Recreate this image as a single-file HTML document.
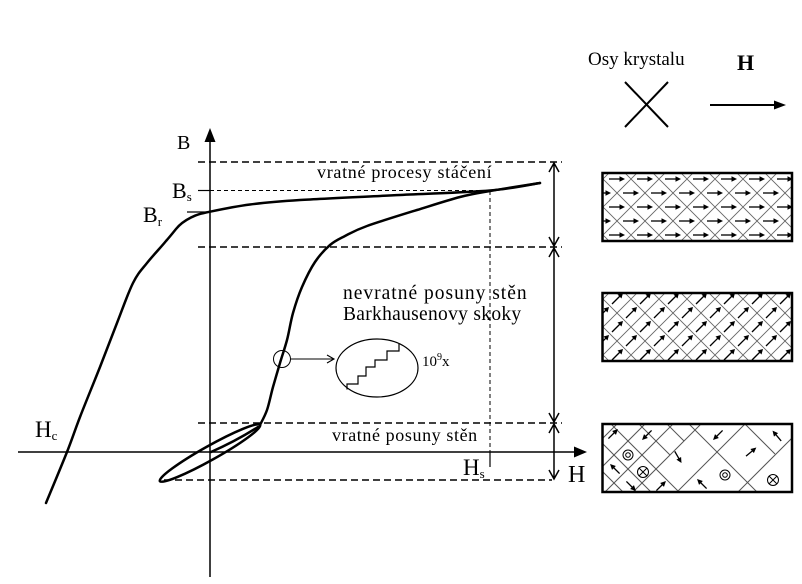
<!DOCTYPE html>
<html><head><meta charset="utf-8"><style>html,body{margin:0;padding:0;background:#fff}svg{display:block}</style></head>
<body>
<svg width="802" height="584" viewBox="0 0 802 584" xmlns="http://www.w3.org/2000/svg" font-family="'Liberation Serif', 'DejaVu Serif', serif">
<defs>
  <g id="ra"><path d="M-8,0H3" stroke="#000" stroke-width="1.3"/><polygon points="8,0 2.5,-2.8 2.5,2.8" fill="#000"/></g>
  <g id="da"><path d="M-5,5L3,-3" stroke="#000" stroke-width="1.3"/><polygon points="6,-6 4.5,-0.5 0.5,-4.5" fill="#000"/></g>
  <g id="a0"><path d="M-6.5,0H3" stroke="#000" stroke-width="1.3"/><polygon points="7,0 1.5,-2.7 1.5,2.7" fill="#000"/></g>
  <pattern id="p1" patternUnits="userSpaceOnUse" x="631" y="165" width="28" height="28">
    <path d="M13,-1L29,15M-1,13L15,29M15,-1L-1,15M29,13L13,29" stroke="#666" stroke-width="0.9" fill="none"/>
    <use href="#ra" x="14" y="14"/><use href="#ra" x="0" y="0"/><use href="#ra" x="28" y="0"/><use href="#ra" x="0" y="28"/><use href="#ra" x="28" y="28"/>
  </pattern>
  <pattern id="p2" patternUnits="userSpaceOnUse" x="631" y="285" width="28" height="28">
    <path d="M13,-1L29,15M-1,13L15,29M15,-1L-1,15M29,13L13,29" stroke="#666" stroke-width="0.9" fill="none"/>
    <use href="#da" x="14" y="14"/><use href="#da" x="0" y="0"/><use href="#da" x="28" y="0"/><use href="#da" x="0" y="28"/><use href="#da" x="28" y="28"/>
  </pattern>
  <clipPath id="c3"><rect x="602.5" y="424" width="189.5" height="68"/></clipPath>
</defs>

<!-- legend -->
<text x="588" y="65" font-size="19">Osy krystalu</text>
<text x="737" y="70" font-size="22" font-weight="bold">H</text>
<path d="M625,82L668,127M668,82L625,127" stroke="#000" stroke-width="2"/>
<path d="M710,105H776" stroke="#000" stroke-width="2"/>
<polygon points="786,105 774,100.5 774,109.5" fill="#000"/>

<!-- axes -->
<path d="M18,452H576" stroke="#000" stroke-width="1.5"/>
<polygon points="587,452 574,446.5 574,457.5" fill="#000"/>
<path d="M210,577V140" stroke="#000" stroke-width="1.5"/>
<polygon points="210,128 204.5,142 215.5,142" fill="#000"/>

<!-- dashed levels -->
<g stroke="#000" stroke-width="1.6" stroke-dasharray="7,4" fill="none">
  <path d="M198,162H562"/>
  <path d="M198,247H562"/>
  <path d="M198,423H562"/>
  <path d="M164,480H552"/>
</g>
<path d="M210,190.5H490" stroke="#000" stroke-width="1" stroke-dasharray="4,3"/>
<path d="M198,190.5H210" stroke="#000" stroke-width="1.2"/>
<path d="M187,212H210" stroke="#000" stroke-width="1.2"/>
<path d="M490,191V452" stroke="#000" stroke-width="1" stroke-dasharray="4,3"/>
<path d="M490,452V467" stroke="#000" stroke-width="1.2"/>

<!-- double arrows -->
<g stroke="#000" stroke-width="1.5" fill="none">
  <path d="M554,163V246M549,172L554,163L559,172M549,237L554,246L559,237"/>
  <path d="M554,248V422M549,257L554,248L559,257M549,413L554,422L559,413"/>
  <path d="M554,424V479M549,433L554,424L559,433M549,470L554,479L559,470"/>
</g>

<!-- hysteresis curves -->
<g stroke="#000" stroke-width="2.5" fill="none" stroke-linejoin="round" stroke-linecap="round">
  <path d="M540,183 C531.7,184.25 513.3,188.5 490,190.5 C466.7,192.5 431.7,193.4 400,195 C368.3,196.6 325,198.4 300,200 C275,201.6 265,202.55 250,204.5 C235,206.45 219.5,209.7 210,211.7 C200.5,213.7 197,214.5 191,217.5 C185,220.5 180,224 176,229 C172,234 170,236.5 166,241 C162,246.05 152.7,255.8 147,263 C141.3,270.2 138,273 133,283 C128,293 122.5,309 117,323 C111.5,337 106.2,351.3 100,367 C93.8,382.7 85.5,402.8 80,417 C74.5,431.2 72.7,437.7 67,452 C61.3,466.3 49.5,494.5 46,503"/>
  <path d="M260,425 C261.2,422.5 264.8,416.3 267,410 C269.2,403.7 270.8,394.8 273,387 C275.2,379.2 277.7,370.8 280,363 C282.3,355.2 284.8,348.3 287,340 C289.2,331.7 290.5,321.8 293,313 C295.5,304.2 298.3,295.5 302,287 C305.7,278.5 310.3,269 315,262 C319.7,255 325,249.3 330,245 C335,240.7 338.8,239.2 345,236 C351.2,232.8 355,230.3 367,226 C379,221.7 401.5,214.8 417,210 C432.5,205.2 447.8,200.2 460,197 C472.2,193.8 476.7,193.3 490,191 C503.3,188.7 531.7,184.3 540,183"/>
  <ellipse cx="210" cy="453" rx="57.5" ry="7" transform="rotate(-29.25 210 453)"/>
  <path d="M211,452 Q236,441 258,427"/>
</g>

<!-- inset -->
<circle cx="282" cy="359" r="8.5" fill="none" stroke="#000" stroke-width="1"/>
<path d="M291,359H334M327,355L334,359L327,363" stroke="#000" stroke-width="1.1" fill="none"/>
<ellipse cx="377" cy="368" rx="41" ry="29" fill="none" stroke="#000" stroke-width="1.2"/>
<polyline points="347,389.5 347,384 358,384 358,376 366,376 366,367 375,367 375,360 387,360 387,351 399,351 399,344" fill="none" stroke="#000" stroke-width="1.2"/>
<text x="422" y="366" font-size="15">10<tspan font-size="10" dy="-6">9</tspan><tspan dy="6">x</tspan></text>

<!-- labels -->
<text x="317" y="178" font-size="18" letter-spacing="0.7">vratné procesy stáčení</text>
<text x="343" y="299" font-size="19.5" letter-spacing="1">nevratné posuny stěn</text>
<text x="343" y="320" font-size="19.5" letter-spacing="0.3">Barkhausenovy skoky</text>
<text x="332" y="441" font-size="18" letter-spacing="0.6">vratné posuny stěn</text>
<text x="177" y="149" font-size="20">B</text>
<text x="172" y="198" font-size="22">B<tspan font-size="13" dy="3">s</tspan></text>
<text x="143" y="222" font-size="22">B<tspan font-size="13" dy="4">r</tspan></text>
<text x="35" y="437" font-size="23">H<tspan font-size="13" dy="3">c</tspan></text>
<text x="463" y="475" font-size="23">H<tspan font-size="13" dy="3">s</tspan></text>
<text x="568" y="482" font-size="24">H</text>

<!-- crystal boxes -->
<rect x="602.5" y="173" width="189.5" height="68" fill="url(#p1)"/>
<rect x="602.5" y="173" width="189.5" height="68" fill="none" stroke="#000" stroke-width="2.5"/>
<rect x="602.5" y="293" width="189.5" height="68" fill="url(#p2)"/>
<rect x="602.5" y="293" width="189.5" height="68" fill="none" stroke="#000" stroke-width="2.5"/>

<g clip-path="url(#c3)">
  <g stroke="#555" stroke-width="1" fill="none">
    <path d="M611,424L679,492M602,443L651,492M602,471L623,492M639,424L670,455M667,424L684,441M689,424L757,492M745,424L775,454"/>
    <path d="M602,439L617,424M602,467L645,424M605,492L673,424M633,492L701,424M677,492L745,424M738,492L792,438"/>
  </g>
  <use href="#a0" transform="translate(613,434) rotate(-45)"/>
  <use href="#a0" transform="translate(647,435) rotate(135)"/>
  <use href="#a0" transform="translate(615,469) rotate(-135)"/>
  <use href="#a0" transform="translate(631,486) rotate(45)"/>
  <use href="#a0" transform="translate(661,486) rotate(-45)"/>
  <use href="#a0" transform="translate(678,457) rotate(60)"/>
  <use href="#a0" transform="translate(718,435) rotate(135)"/>
  <use href="#a0" transform="translate(702,484) rotate(-135)"/>
  <use href="#a0" transform="translate(751,452) rotate(-40)"/>
  <use href="#a0" transform="translate(777,436) rotate(-130)"/>
  <g fill="none" stroke="#000" stroke-width="1">
    <circle cx="628" cy="455" r="5"/><circle cx="628" cy="455" r="2.3"/>
    <circle cx="725" cy="475" r="5"/><circle cx="725" cy="475" r="2.3"/>
    <circle cx="643" cy="472" r="5.5"/><path d="M639.1,468.1L646.9,475.9M646.9,468.1L639.1,475.9"/>
    <circle cx="773" cy="480" r="5.5"/><path d="M769.1,476.1L776.9,483.9M776.9,476.1L769.1,483.9"/>
  </g>
</g>
<rect x="602.5" y="424" width="189.5" height="68" fill="none" stroke="#000" stroke-width="2.5"/>
</svg>
</body></html>
